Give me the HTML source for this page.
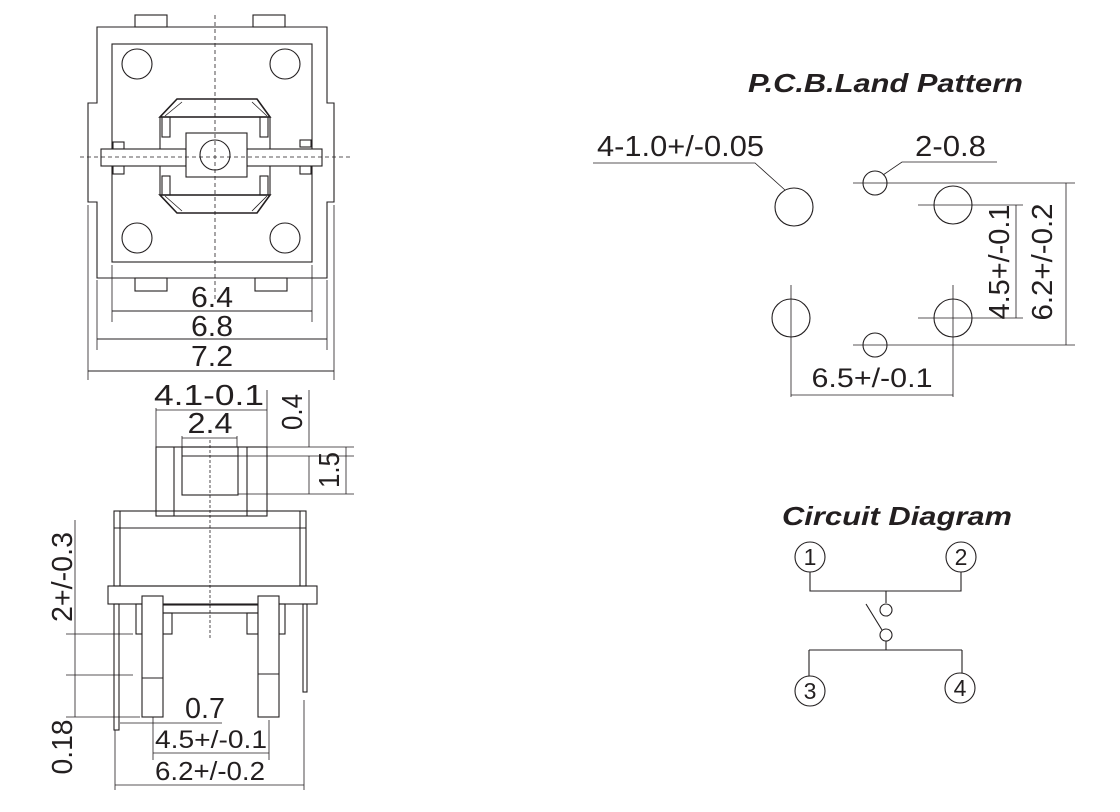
<!DOCTYPE html>
<html><head><meta charset="utf-8"><style>
html,body{margin:0;padding:0;background:#fff;}
svg{display:block;}
text{font-family:"Liberation Sans",Arial,sans-serif;fill:#231f20;}
</style></head><body>
<svg width="1120" height="812" viewBox="0 0 1120 812" xmlns="http://www.w3.org/2000/svg">
<g fill="none" stroke="#231f20" stroke-width="1.1">
<!-- TOP VIEW -->
<rect x="135" y="15" width="32" height="12"/>
<rect x="253" y="15" width="32" height="12"/>
<rect x="135" y="278" width="32" height="13"/>
<rect x="255" y="278" width="32" height="13"/>
<path d="M97,27 H327 V103 H334 V202 H327 V278 H97 V202 H88 V103 H97 Z"/>
<rect x="112" y="44" width="200" height="218"/>
<circle cx="137" cy="64" r="15"/><circle cx="285" cy="64" r="15"/>
<circle cx="137" cy="238" r="15"/><circle cx="285" cy="238" r="15"/>
<path d="M177,99 H257 L270,117 H160 Z" stroke-width="1.6"/>
<path d="M160,195 H270 L257,213 H177 Z" stroke-width="1.6"/>
<path d="M182,102 L165,116 M252,102 L267,116 M165,196 L182,211 M267,196 L252,211" stroke-width="0.8"/>
<rect x="160" y="117" width="110" height="78"/>
<rect x="162" y="117" width="8" height="20"/><rect x="260" y="117" width="8" height="20"/>
<rect x="162" y="176" width="8" height="19"/><rect x="260" y="176" width="8" height="19"/>
<rect x="113" y="142" width="11" height="7"/><rect x="113" y="166" width="11" height="8"/>
<rect x="300" y="140" width="11" height="7"/><rect x="300" y="166" width="11" height="8"/>
<rect x="101" y="149" width="85" height="17" fill="#fff"/>
<rect x="247" y="149" width="75" height="17" fill="#fff"/>
<rect x="186" y="133" width="61" height="44" fill="#fff"/>
<circle cx="215" cy="155" r="15"/>
<path d="M215,15 V300 M80,157 H350" stroke-width="0.8" stroke-dasharray="4,3"/>
<path d="M112,265 V322 M312,265 V322 M97,280 V350 M327,280 V350 M88,205 V380 M334,205 V380" stroke-width="0.8"/>
<path d="M112,311 H312 M97,339 H327 M88,371 H334" stroke-width="0.9"/>
<!-- SIDE VIEW -->
<path d="M156,410 H267 M182,438 H237 M156,408 V447 M267,390 V447 M182,436 V447 M237,436 V447" stroke-width="0.8"/>
<rect x="156" y="447" width="111" height="69"/>
<path d="M174,447 V516 M247,447 V516"/>
<rect x="182" y="447" width="56" height="48"/>
<path d="M182,456 H238"/>
<rect x="114" y="511" width="192" height="75"/>
<path d="M114,528 H306 M120,511 V586 M300,511 V586"/>
<rect x="108" y="586" width="209" height="18"/>
<rect x="114" y="604" width="5" height="126"/>
<rect x="303" y="604" width="4" height="88"/>
<rect x="136" y="604" width="6" height="30"/><rect x="163" y="613" width="9" height="21"/>
<rect x="247" y="613" width="11" height="21"/><rect x="279" y="604" width="6" height="30"/>
<rect x="163" y="605" width="95" height="8"/>
<rect x="142" y="596" width="21" height="121" fill="#fff"/>
<path d="M142,678 H163"/>
<rect x="258" y="596" width="21" height="121" fill="#fff"/>
<path d="M258,674 H279"/>
<path d="M210,440 V640" stroke-width="0.8" stroke-dasharray="3,2"/>
<!-- side dims -->
<path d="M267,447 H354 M238,456 H354 M238,494 H354 M309,390 V447 M309,456 V494 M346,447 V494" stroke-width="0.8"/>
<path d="M66,634 H133 M66,675 H133 M66,717 H140 M75,520 V717" stroke-width="0.8"/>
<path d="M120,723 H222 M153,717 V760 M269,720 V760 M153,753 H269 M115,730 V790 M304,700 V790 M115,785 H304" stroke-width="0.8"/>
<!-- PCB -->
<circle cx="794" cy="207" r="19"/><circle cx="953" cy="205" r="19"/>
<circle cx="791" cy="318" r="19"/><circle cx="953" cy="318" r="19"/>
<circle cx="875" cy="183" r="12"/><circle cx="875" cy="345" r="12"/>
<path d="M593,163 H755 L785,190 M997,162 H902 L883,175" stroke-width="0.8"/>
<path d="M853,183 H1075 M853,345 H1075 M918,205 H1023 M918,318 H1023 M1066,183 V345 M1016,205 V318" stroke-width="0.8"/>
<path d="M791,285 V397 M953,285 V397 M791,395 H953" stroke-width="0.8"/>
<!-- CIRCUIT -->
<circle cx="810" cy="557" r="15"/><circle cx="961" cy="557" r="15"/>
<circle cx="810" cy="691" r="15"/><circle cx="960" cy="688" r="15"/>
<path d="M810,572 V591 H961 V572 M886,591 V603"/>
<circle cx="886" cy="610" r="6"/>
<circle cx="886" cy="635" r="6"/>
<path d="M866,604 L882,630 M886,641 V650 M809,650 H962 M809,650 V676 M962,650 V673"/>
</g>
<g font-size="29">
<text x="212" y="307" text-anchor="middle" textLength="42" lengthAdjust="spacingAndGlyphs">6.4</text>
<text x="212" y="336" text-anchor="middle" textLength="42" lengthAdjust="spacingAndGlyphs">6.8</text>
<text x="212" y="366" text-anchor="middle" textLength="42" lengthAdjust="spacingAndGlyphs">7.2</text>
<text x="209" y="405" text-anchor="middle" textLength="110" lengthAdjust="spacingAndGlyphs">4.1-0.1</text>
<text x="210" y="433" text-anchor="middle" textLength="45" lengthAdjust="spacingAndGlyphs">2.4</text>
<text x="205" y="718" text-anchor="middle" textLength="40" lengthAdjust="spacingAndGlyphs">0.7</text>
<text x="211" y="748" text-anchor="middle" font-size="25" textLength="112" lengthAdjust="spacingAndGlyphs">4.5+/-0.1</text>
<text x="210" y="780" text-anchor="middle" font-size="26" textLength="110" lengthAdjust="spacingAndGlyphs">6.2+/-0.2</text>
<text transform="translate(302,412) rotate(-90)" text-anchor="middle" textLength="36" lengthAdjust="spacingAndGlyphs">0.4</text>
<text transform="translate(339,470) rotate(-90)" text-anchor="middle" textLength="36" lengthAdjust="spacingAndGlyphs">1.5</text>
<text transform="translate(72,577) rotate(-90)" text-anchor="middle" textLength="90" lengthAdjust="spacingAndGlyphs">2+/-0.3</text>
<text transform="translate(72,747) rotate(-90)" text-anchor="middle" textLength="55" lengthAdjust="spacingAndGlyphs">0.18</text>
<text x="597" y="156" textLength="167" lengthAdjust="spacingAndGlyphs">4-1.0+/-0.05</text>
<text x="915" y="156" textLength="71" lengthAdjust="spacingAndGlyphs">2-0.8</text>
<text transform="translate(1009,262) rotate(-90)" text-anchor="middle" textLength="115" lengthAdjust="spacingAndGlyphs">4.5+/-0.1</text>
<text transform="translate(1052,262) rotate(-90)" text-anchor="middle" textLength="117" lengthAdjust="spacingAndGlyphs">6.2+/-0.2</text>
<text x="872" y="387" text-anchor="middle" font-size="27" textLength="121" lengthAdjust="spacingAndGlyphs">6.5+/-0.1</text>
</g>
<text x="748" y="92" font-size="26" font-weight="bold" font-style="italic" textLength="275" lengthAdjust="spacingAndGlyphs">P.C.B.Land Pattern</text>
<text x="782" y="525" font-size="26" font-weight="bold" font-style="italic" textLength="230" lengthAdjust="spacingAndGlyphs">Circuit Diagram</text>
<g font-size="23" text-anchor="middle">
<text x="810" y="565">1</text><text x="961" y="565">2</text>
<text x="810" y="699">3</text><text x="960" y="696">4</text>
</g>
</svg>
</body></html>
